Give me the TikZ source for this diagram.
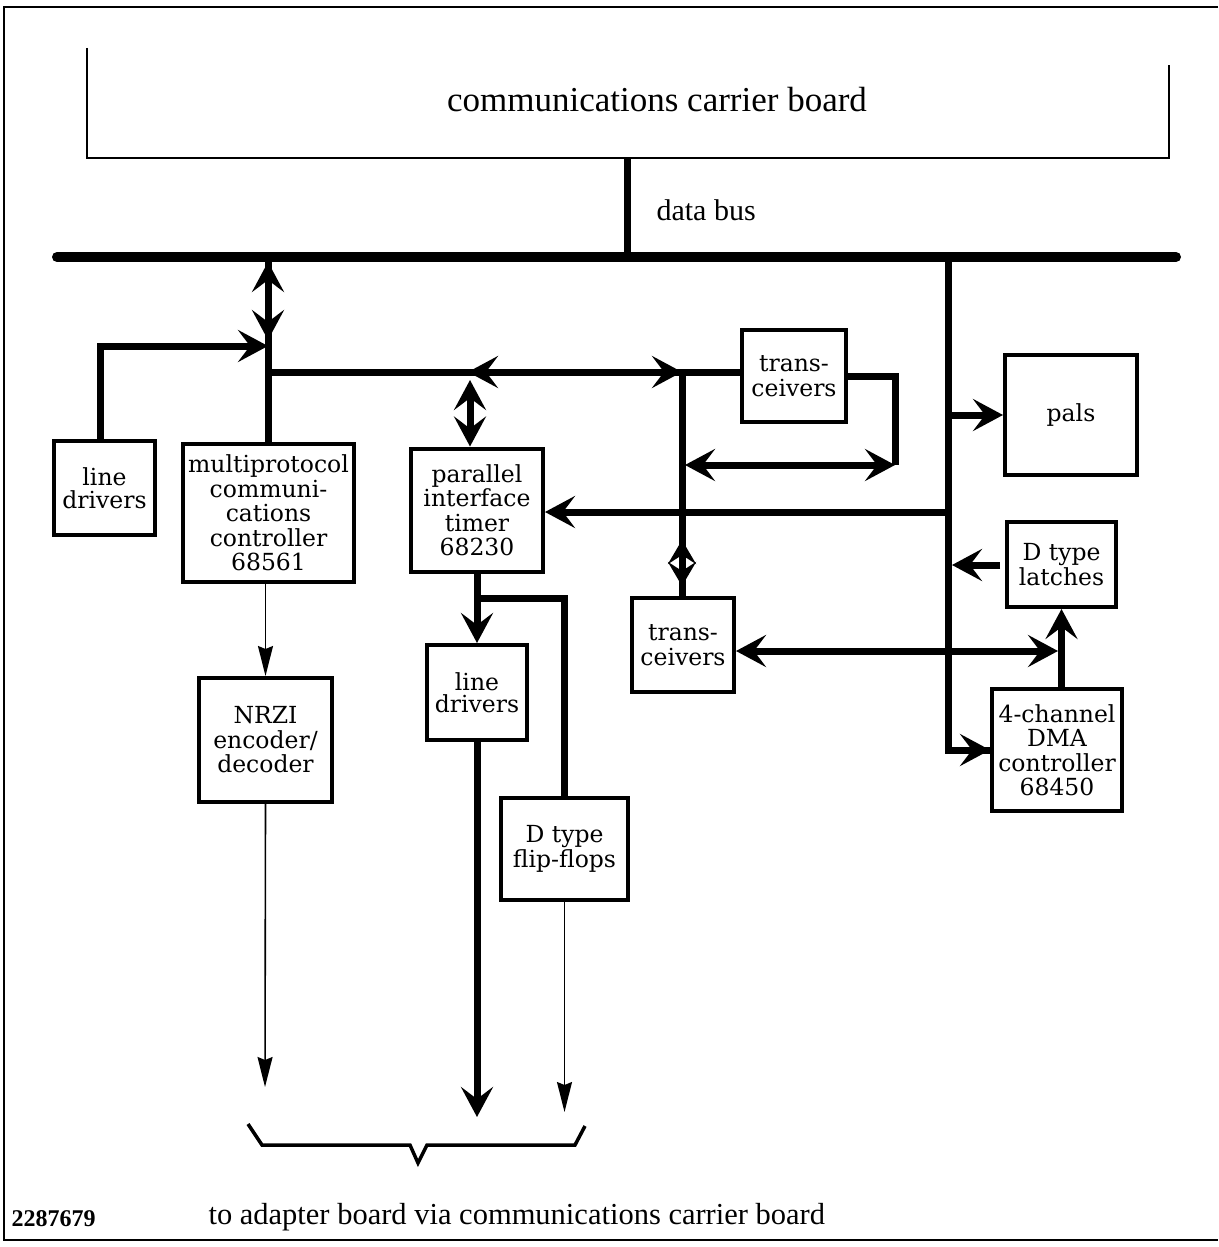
\documentclass[tikz,border=0pt]{standalone}
\usepackage{fontspec}
\setmainfont{Liberation Serif}
\newfontfamily\boxfont{DejaVu Serif}
\usetikzlibrary{arrows.meta}
\tikzset{
  blk/.style={draw, line width=4pt, inner sep=0pt, align=center,
    font=\boxfont\fontsize{23.5}{24.5}\selectfont},
  thk/.style={line width=7pt},
  thn/.style={line width=1.6pt},
  bt/.tip={Stealth[length=30pt,width=32pt,inset=12pt]},
  sbt/.tip={Stealth[length=24pt,width=28pt,inset=9pt]},
  st/.tip={Stealth[length=30pt,width=15pt,inset=3pt]},
}
\begin{document}
\begin{tikzpicture}[x=1pt,y=-1pt]
\useasboundingbox (0,0) rectangle (1218,1247);
% outer frame
\draw[line width=2pt] (1218,7) -- (4,7) -- (4,1240) -- (1218,1240);
% carrier board (open top)
\draw[line width=1.6pt] (87,48) |- (1169,158) -- (1169,65);
\node[font=\fontsize{35}{38}\selectfont] (cbt) at (657,100) {communications carrier board};
\coordinate (cbb) at (627,158);
% bus
\coordinate (busL) at (57,257);
\coordinate (busR) at (1176,257);
\draw[line width=10pt, line cap=round] (busL) -- (busR);
\draw[thk] (cbb) -- (627,254);
\node[anchor=west, font=\fontsize{30}{32}\selectfont] (db) at (653,210) {data bus};

% blocks
\node[blk, minimum width=101pt, minimum height=94pt] (ld1) at (104.5,488) {line\\[-2pt]drivers};
\node[blk, minimum width=171pt, minimum height=138pt] (mpcc) at (268.5,513) {multiprotocol\\communi-\\cations\\controller\\68561};
\node[blk, minimum width=132pt, minimum height=123pt] (pit) at (477,510) {parallel\\interface\\timer\\68230};
\node[blk, minimum width=104pt, minimum height=92pt] (tr1) at (794,376) {trans-\\ceivers};
\node[blk, minimum width=132pt, minimum height=120pt] (pals) at (1071,415) {pals};
\node[blk, minimum width=109pt, minimum height=85pt] (latch) at (1061.5,564.5) {D type\\latches};
\node[blk, minimum width=102pt, minimum height=94pt] (tr2) at (683,645) {trans-\\ceivers};
\node[blk, minimum width=130pt, minimum height=122pt] (dma) at (1057,750) {4-channel\\DMA\\controller\\68450};
\node[blk, minimum width=133pt, minimum height=124pt] (nrzi) at (265.5,740) {NRZI\\encoder/\\decoder};
\node[blk, minimum width=100pt, minimum height=95pt] (ld2) at (477,692.5) {line\\[-2pt]drivers};
\node[blk, minimum width=127pt, minimum height=102pt] (ff) at (564.5,849) {D type\\flip-flops};

% multiprotocol controller to bus
\coordinate (mb) at (268,262);
\coordinate (mj) at (268,346);
\draw[thk] (mb) -- (mpcc.north -| mb);
\draw[thk, {bt}-{bt}] (mb) -- (268,340);
\draw[thk, -{bt}] (ld1.north -| 100,0) |- (mj);

% horizontal local line
\coordinate (hL) at (272,372);
\coordinate (vx) at (682,372);
\draw[thk] (hL) -- (tr1.west |- hL);
\draw[thk, -{bt}] (560,372) -- (468,372);
\draw[thk, -{bt}] (600,372) -- (vx);
% PIT up/down
\draw[thk, {bt}-{bt}] (470,380) -- (pit.north -| 470,0);
% vertical at 682
\draw[thk] (vx) -- (tr2.north -| vx);
\draw[thk, {sbt}-{sbt}] (682,540) -- (682,586);
% transceivers 1 loop
\coordinate (lc) at (895,465);
\draw[thk] (tr1.east) -| (lc);
\draw[thk, {bt}-{bt}] (685,465) -- (lc);

% right vertical bus
\coordinate (rt) at (948,260);
\draw[thk] (rt) |- (dma.west);
\draw[thk, -{bt}] (975,750) -- (dma.west);
\draw[thk, -{bt}] (rt |- pals.west) -- (pals.west);
\draw[thk, -{bt}] (948,512) -- (pit.east |- 0,512);
\draw[thk, -{bt}] (1000,565) -- (952,565);
% transceivers 2 to latches/DMA
\coordinate (tj) at (1058,651);
\draw[thk, {bt}-{bt}] (tr2.east |- tj) -- (tj);
\draw[thk, -{bt}] (latch.south |- dma.north) -- (latch.south);

% lower outputs
\draw[thn, -{st}] (nrzi.north |- mpcc.south) -- (nrzi.north);
\draw[thn, -{st}] (nrzi.south) -- (265,1087);
\draw[thk, -{bt}] (pit.south) -- (ld2.north);
\draw[thk] (477,598) -| (ff.north);
\draw[thk, -{bt}] (ld2.south) -- (477,1117);
\draw[thn, -{st}] (ff.south) -- (564.5,1112);

% brace
\draw[line width=3.5pt, line join=miter] (248,1124) -- (262,1145) -- (410,1145) -- (418,1163) -- (427,1145) -- (575,1145) -- (585,1126);

% bottom labels
\node[anchor=west, font=\bfseries\fontsize{24}{26}\selectfont] (num) at (8,1219) {2287679};
\node[anchor=west, font=\fontsize{30.5}{32}\selectfont] (foot) at (205,1217) {to adapter board via communications carrier board};
\end{tikzpicture}
\end{document}
